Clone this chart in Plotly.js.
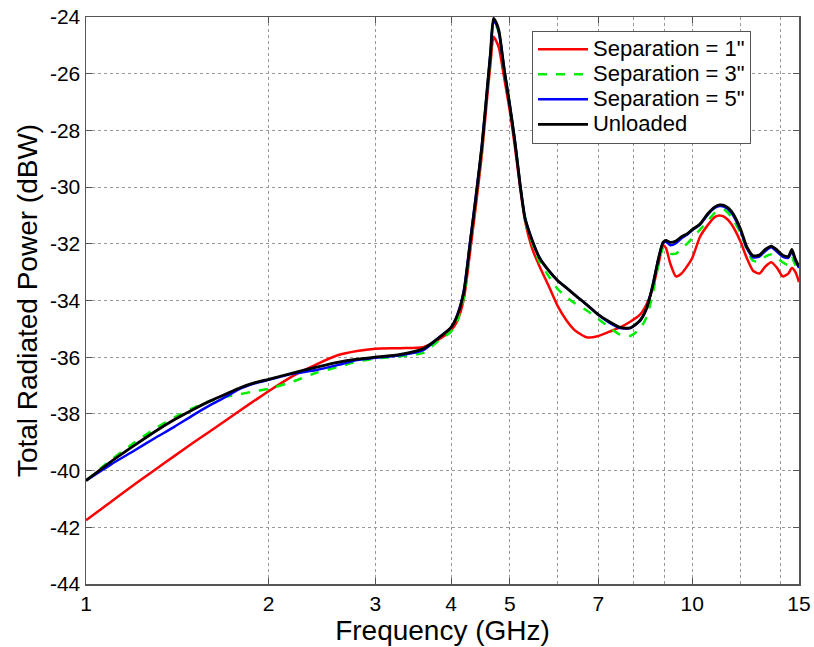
<!DOCTYPE html>
<html>
<head>
<meta charset="utf-8">
<script src="https://cdn.plot.ly/plotly-3.0.1.min.js"></script>
<style>html,body{margin:0;padding:0;background:#fff;}#chart{width:814px;height:647px;}</style>
</head>
<body>
<div id="chart"></div>
<script>
// Frequency samples (GHz)
var freq = [1, 1.1, 1.2, 1.3, 1.4, 1.5, 1.6, 1.7, 1.8, 1.9, 2.0, 2.2, 2.4, 2.6, 2.8, 3.0, 3.3, 3.6, 3.8, 4.0,
  4.1, 4.2, 4.3, 4.4, 4.5, 4.6, 4.65, 4.7, 4.75, 4.8, 4.9, 5.0, 5.1, 5.2, 5.3, 5.45, 5.6, 5.8, 6.0, 6.2,
  6.4, 6.7, 7.0, 7.3, 7.6, 7.9, 8.2, 8.4, 8.6, 8.8, 8.95, 9.05, 9.2, 9.4, 9.6, 9.8, 10.0, 10.3, 10.6, 10.9,
  11.1, 11.3, 11.6, 12.0, 12.3, 12.6, 12.9, 13.2, 13.5, 13.8, 14.1, 14.4, 14.6, 14.8, 15];

var sep1 = [-41.75, -41.1, -40.5, -39.97, -39.48, -39.03, -38.62, -38.23, -37.86, -37.52, -37.2, -36.65, -36.25, -35.93, -35.78, -35.7, -35.68, -35.65, -35.4, -35.05,
  -34.7, -33.95, -32.3, -30.6, -28.8, -26.6, -25.6, -24.7, -24.85, -25.1, -26.2, -27.3, -28.6, -30.0, -31.2, -32.2, -32.8, -33.5, -34.2, -34.7,
  -35.05, -35.3, -35.25, -35.1, -34.95, -34.75, -34.5, -34.15, -33.6, -32.7, -32.05, -32.15, -32.7, -33.15, -33.05, -32.8, -32.5, -31.75, -31.35, -31.05,
  -31.0, -31.05, -31.3, -31.9, -32.5, -32.95, -33.05, -32.8, -32.65, -32.85, -33.15, -33.05, -32.85, -33.0, -33.35];

var sep3 = [-40.35, -39.62, -39.02, -38.52, -38.12, -37.8, -37.55, -37.4, -37.3, -37.2, -37.12, -36.85, -36.55, -36.35, -36.15, -36.05, -35.97, -35.85, -35.45, -35.1,
  -34.7, -33.9, -32.2, -30.4, -28.6, -26.4, -25.3, -24.2, -24.3, -24.6, -25.9, -27.1, -28.4, -29.9, -31.15, -32.0, -32.65, -33.15, -33.6, -33.87,
  -34.1, -34.35, -34.65, -34.95, -35.2, -35.25, -35.0, -34.6, -33.8, -32.7, -32.15, -32.15, -32.35, -32.35, -32.15, -32.0, -31.8, -31.5, -31.2, -30.9,
  -30.8, -30.8, -31.05, -31.6, -32.2, -32.6, -32.62, -32.45, -32.38, -32.5, -32.65, -32.75, -32.5, -32.75, -32.9];

var sep5 = [-40.35, -39.78, -39.3, -38.85, -38.45, -38.05, -37.7, -37.4, -37.1, -36.92, -36.8, -36.58, -36.45, -36.28, -36.1, -36.02, -35.93, -35.75, -35.35, -34.95,
  -34.5, -33.65, -31.95, -30.25, -28.5, -26.3, -25.2, -24.15, -24.25, -24.55, -25.9, -27.1, -28.4, -29.9, -31.1, -31.9, -32.5, -32.95, -33.3, -33.55,
  -33.8, -34.15, -34.5, -34.78, -34.97, -34.97, -34.72, -34.3, -33.5, -32.5, -31.97, -31.93, -32.05, -31.98, -31.8, -31.68, -31.52, -31.32, -30.98, -30.73,
  -30.67, -30.7, -30.9, -31.5, -32.15, -32.48, -32.45, -32.25, -32.12, -32.28, -32.45, -32.5, -32.28, -32.6, -32.85];

var unloaded = [-40.35, -39.68, -39.12, -38.62, -38.2, -37.85, -37.55, -37.3, -37.07, -36.9, -36.78, -36.55, -36.35, -36.18, -36.07, -36.0, -35.9, -35.7, -35.35, -34.95,
  -34.5, -33.7, -32.0, -30.3, -28.5, -26.3, -25.2, -24.05, -24.2, -24.5, -25.9, -27.1, -28.4, -29.9, -31.1, -31.9, -32.5, -32.95, -33.3, -33.55,
  -33.8, -34.15, -34.5, -34.75, -34.95, -34.97, -34.7, -34.3, -33.5, -32.5, -31.95, -31.88, -31.95, -31.9, -31.75, -31.65, -31.5, -31.3, -30.95, -30.7,
  -30.63, -30.65, -30.85, -31.45, -32.1, -32.42, -32.4, -32.2, -32.08, -32.22, -32.4, -32.45, -32.2, -32.55, -32.8];

var seriesNames = ['Separation = 1"', 'Separation = 3"', 'Separation = 5"', 'Unloaded'];

var xTickVals = [1, 2, 3, 4, 5, 7, 10, 15];
var xTickText = ['1', '2', '3', '4', '5', '7', '10', '15'];
var xExtraGrid = [6, 8, 9, 12, 14];
var yTickVals = [-44, -42, -40, -38, -36, -34, -32, -30, -28, -26, -24];
var yTickText = yTickVals.map(String);

var FONT = 'Liberation Sans, Arial, Helvetica, sans-serif';
var lineSmooth = 0.6;

function legendLabel(s) {
  return '<span style="font-size:22px">' + s + '</span>';
}

var traces = [
  {x: freq, y: sep1, name: legendLabel(seriesNames[0]), mode: 'lines', line: {color: '#ff0000', width: 2.5, shape: 'spline', smoothing: lineSmooth}},
  {x: freq, y: sep3, name: legendLabel(seriesNames[1]), mode: 'lines', line: {color: '#00ee00', width: 2.5, dash: 'dash', shape: 'spline', smoothing: lineSmooth}},
  {x: freq, y: sep5, name: legendLabel(seriesNames[2]), mode: 'lines', line: {color: '#0000ff', width: 2.5, shape: 'spline', smoothing: lineSmooth}},
  {x: freq, y: unloaded, name: legendLabel(seriesNames[3]), mode: 'lines', line: {color: '#000000', width: 2.8, shape: 'spline', smoothing: lineSmooth}}
];

var layout = {
  width: 814, height: 647,
  margin: {l: 86, r: 15, t: 17, b: 63},
  paper_bgcolor: '#ffffff', plot_bgcolor: '#ffffff',
  font: {family: FONT, size: 20, color: '#000'},
  showlegend: true,
  legend: {
    x: 0.6255, y: 0.976, xanchor: 'left', yanchor: 'top',
    bgcolor: '#ffffff', bordercolor: '#555555', borderwidth: 1,
    font: {family: FONT, size: 17, color: '#000'},
    itemwidth: 50,
    tracegroupgap: 0
  },
  xaxis: {
    type: 'log', range: [0, Math.log10(15)],
    tickmode: 'array', tickvals: xTickVals, ticktext: xTickText,
    ticks: 'inside', ticklen: 6, tickcolor: '#555', tickwidth: 1,
    showline: true, linecolor: '#555', linewidth: 1.5, mirror: 'ticks',
    showgrid: true, gridcolor: '#999999', griddash: 'dot', gridwidth: 1,
    minor: {tickmode: 'array', tickvals: xExtraGrid, showgrid: true, gridcolor: '#999999', griddash: 'dot', gridwidth: 1, ticks: ''},
    zeroline: false,
    tickfont: {family: FONT, size: 21, color: '#000'},
    title: {text: 'Frequency (GHz)', font: {family: FONT, size: 28, color: '#000'}, standoff: 0}
  },
  yaxis: {
    range: [-44, -24],
    tickmode: 'array', tickvals: yTickVals, ticktext: yTickText,
    ticks: 'inside', ticklen: 6, tickcolor: '#555', tickwidth: 1,
    showline: true, linecolor: '#555', linewidth: 1.5, mirror: 'ticks',
    showgrid: true, gridcolor: '#999999', griddash: 'dot', gridwidth: 1,
    zeroline: false,
    tickfont: {family: FONT, size: 21, color: '#000'},
    title: {text: 'Total Radiated Power (dBW)', font: {family: FONT, size: 28, color: '#000'}, standoff: 4}
  }
};

Plotly.newPlot('chart', traces, layout, {staticPlot: true, displayModeBar: false});
</script>
</body>
</html>
